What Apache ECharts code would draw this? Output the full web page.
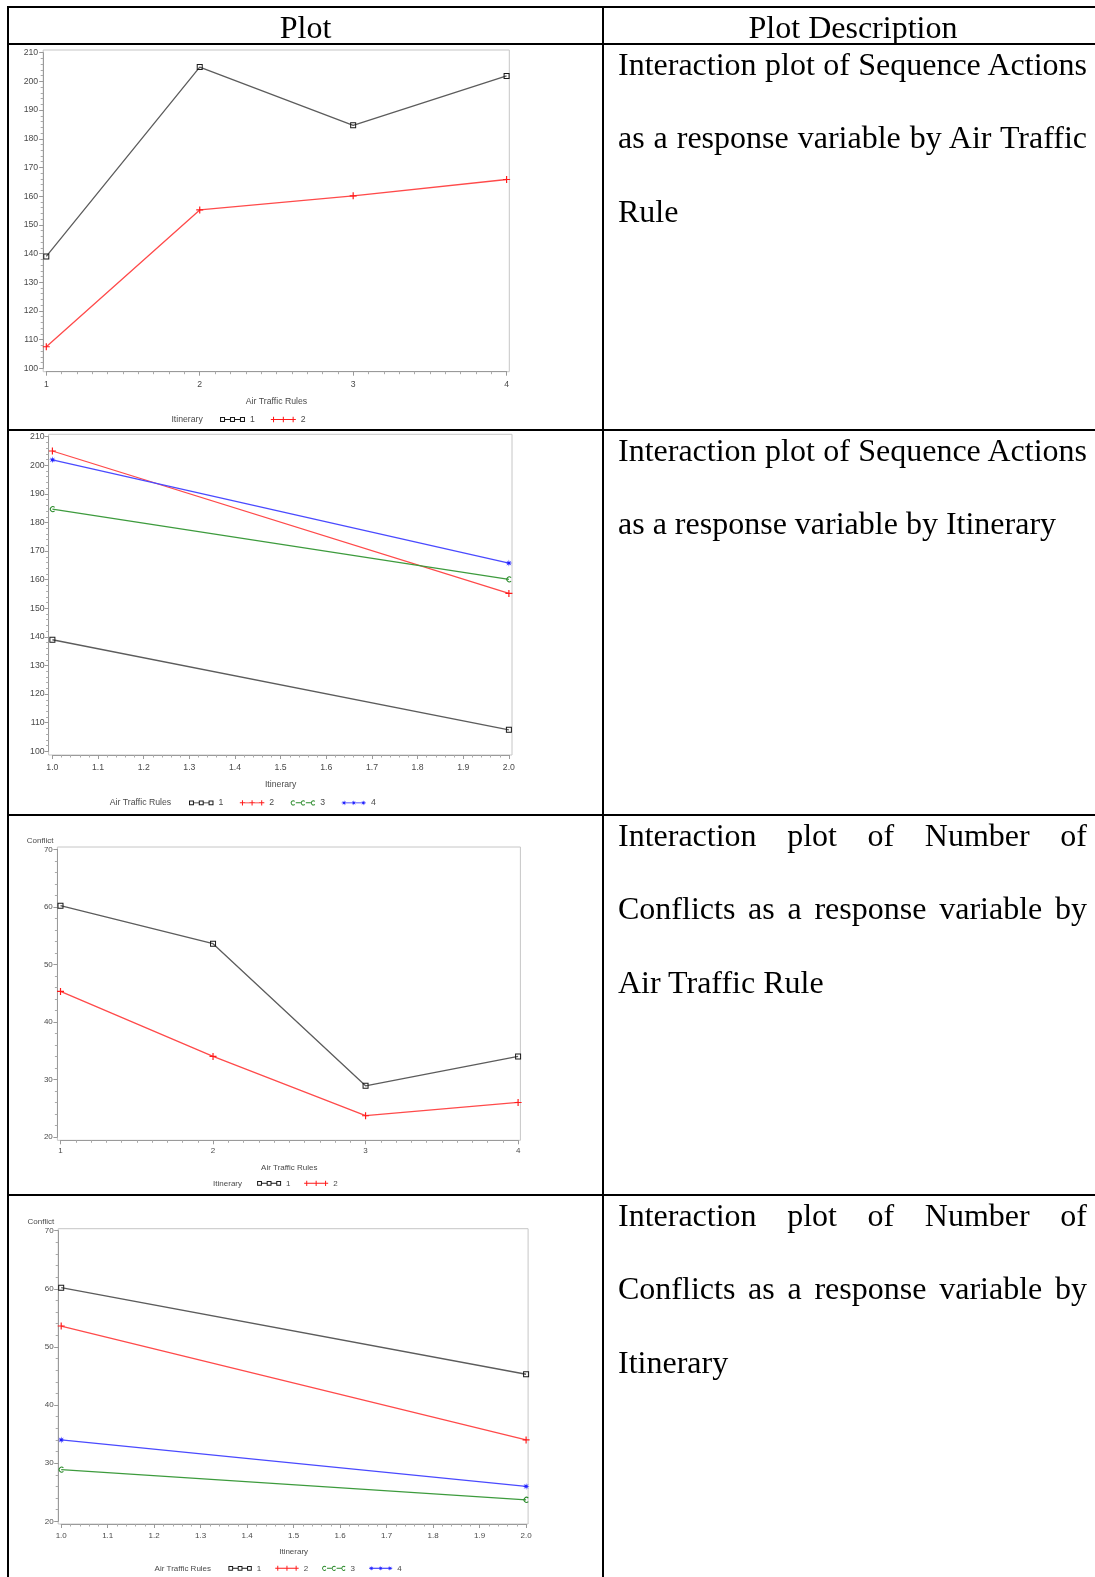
<!DOCTYPE html>
<html><head><meta charset="utf-8">
<script src="https://cdn.jsdelivr.net/npm/echarts@6/dist/echarts.min.js"></script>
<style>
html,body{margin:0;padding:0;background:#fff;}
#page{position:relative;width:1095px;height:1577px;overflow:hidden;background:#fff;}
#chart{position:absolute;left:0;top:0;width:1095px;height:1577px;z-index:1;}
.ln{position:absolute;background:#000;z-index:2;}
.tx{position:absolute;font-family:"Liberation Serif","Times New Roman",serif;font-size:32px;line-height:32px;height:32px;white-space:nowrap;color:#000;z-index:2;}
.j{text-align:justify;text-align-last:justify;}
.c{text-align:center;}
</style></head><body>
<div id="page"><div id="chart"></div></div>
<script>
// ---------------- DATA ----------------
const rules = [1, 2, 3, 4];                 // Air Traffic Rules
const itineraries = [1, 2];                 // Itinerary
const seqActionsItin1 = [139.0, 205.0, 184.7, 201.9];
const seqActionsItin2 = [107.5, 155.2, 160.1, 165.8];
const conflictItin1 = [60.2, 53.6, 28.9, 34.0];
const conflictItin2 = [45.3, 34.0, 23.7, 26.0];
const seqAxis = [100, 210, 10];             // min, max, interval
const conflictAxis = [20, 70, 10];
const ruleAxis = [1, 4, 1];
const itinAxis = [1, 2, 0.1];
const headerTexts = ['Plot', 'Plot Description'];
const descLines = [
  ['Interaction plot of Sequence Actions', 'as a response variable by Air Traffic', 'Rule'],
  ['Interaction plot of Sequence Actions', 'as a response variable by Itinerary'],
  ['Interaction plot of Number of', 'Conflicts as a response variable by', 'Air Traffic Rule'],
  ['Interaction plot of Number of', 'Conflicts as a response variable by', 'Itinerary']
];

// ---------------- TABLE (HTML) ----------------
const page = document.getElementById('page');
function addDiv(cls, css, text) {
  const d = document.createElement('div');
  d.className = cls;
  Object.assign(d.style, css);
  if (text != null) d.textContent = text;
  page.appendChild(d);
}
[6, 43, 429, 814, 1194].forEach(y => addDiv('ln', {left: '7px', top: y + 'px', width: '1100px', height: '2px'}));
[7, 602, 1102].forEach(x => addDiv('ln', {left: x + 'px', top: '6px', width: '2px', height: '1600px'}));
addDiv('tx c', {left: '9px', top: '10.8px', width: '593px'}, headerTexts[0]);
addDiv('tx c', {left: '604px', top: '10.8px', width: '498px'}, headerTexts[1]);
const rowTops = [44, 430, 815, 1195];
descLines.forEach((lines, r) => {
  lines.forEach((t, k) => {
    const last = k === lines.length - 1;
    addDiv('tx' + (last ? '' : ' j'), {left: '618px', top: (rowTops[r] + 3.6 + k * 73.8) + 'px', width: '469px'}, t);
  });
});

// ---------------- SYMBOL SHAPES ----------------
const f = v => (+v).toFixed(2);
function sq(cx, cy, h, t) {
  return `M${f(cx-h)},${f(cy-h)}H${f(cx+h)}V${f(cy+h)}H${f(cx-h)}Z` +
         `M${f(cx-h+t)},${f(cy-h+t)}V${f(cy+h-t)}H${f(cx+h-t)}V${f(cy-h+t)}Z`;
}
function plus(cx, cy, h, t) {
  const a = t / 2;
  return `M${f(cx-a)},${f(cy-h)}H${f(cx+a)}V${f(cy-a)}H${f(cx+h)}V${f(cy+a)}H${f(cx+a)}V${f(cy+h)}H${f(cx-a)}V${f(cy+a)}H${f(cx-h)}V${f(cy-a)}H${f(cx-a)}Z`;
}
function cshape(cx, cy, R, t) {
  const a = 0.7071, r = R - t;
  return `M${f(cx+R*a)},${f(cy-R*a)}A${f(R)},${f(R)} 0 1 0 ${f(cx+R*a)},${f(cy+R*a)}L${f(cx+r*a)},${f(cy+r*a)}A${f(r)},${f(r)} 0 1 1 ${f(cx+r*a)},${f(cy-r*a)}Z`;
}
function star(cx, cy, R, r) {
  let s = '';
  for (let k = 0; k < 16; k++) {
    const ang = -Math.PI / 2 + k * Math.PI / 8;
    const rad = k % 2 === 0 ? R : r;
    s += (k === 0 ? 'M' : 'L') + f(cx + rad * Math.cos(ang)) + ',' + f(cy + rad * Math.sin(ang));
  }
  return s + 'Z';
}
function bar(x0, x1, cy, t) { return `M${f(x0)},${f(cy-t/2)}H${f(x1)}V${f(cy+t/2)}H${f(x0)}Z`; }
const LX = [2.5, 12, 21.5];
const legendIcons = [
  'path://' + LX.map(c => sq(c, 3, 2.4, 1)).join('') + bar(4.9, 9.6, 3, 0.9) + bar(14.4, 19.1, 3, 0.9),
  'path://' + bar(0, 24, 3, 0.9) + LX.map(c => plus(c, 3, 2.6, 1)).join(''),
  'path://' + LX.map(c => cshape(c, 3, 2.4, 0.9)).join('') + bar(4.9, 9.6, 3, 0.9) + bar(14.4, 19.1, 3, 0.9),
  'path://' + bar(0, 24, 3, 0.9) + LX.map(c => star(c, 3, 2.6, 1)).join('')
];
const styles = [
  {line: '#5c5c5c', mark: '#1a1a1a', sym: 'path://' + sq(3, 3, 3, 1), size: 6},
  {line: '#ff4a4a', mark: '#ff1a1a', sym: 'path://' + plus(3, 3, 3, 1), size: 7},
  {line: '#3d9b3d', mark: '#2a8a2a', sym: 'path://' + cshape(3, 3, 3, 1), size: 6},
  {line: '#4a4aff', mark: '#1f1fff', sym: 'path://' + star(3, 3, 3, 1.1), size: 7}
];

// ---------------- PANELS ----------------
const FONT = '"Liberation Sans", Arial, Helvetica, sans-serif';
const panels = [
  {frame: [43.2, 50, 466.1, 321.7], data: [46.3, 52.7, 460.3, 315.6], x: ruleAxis, xMinor: 10, xDec: 0, y: seqAxis,
   xName: 'Air Traffic Rules', yName: '', fs: 8.7, xMargin: 8, yMargin: 5, nameGap: 25.5,
   legTitle: 'Itinerary', legTitleLeft: 171.4, legCY: 419.3, legLeft: 220, iconW: 25, gap: 16,
   series: [
     {name: 'a1', g: 0, data: rules.map((r, k) => [r, seqActionsItin1[k]])},
     {name: 'a2', g: 1, data: rules.map((r, k) => [r, seqActionsItin2[k]])}
   ]},
  {frame: [48.6, 434.3, 463.4, 320.7], data: [52.4, 436.7, 456.5, 314.6], x: itinAxis, xMinor: 5, xDec: 1, y: seqAxis,
   xName: 'Itinerary', yName: '', fs: 8.7, xMargin: 8, yMargin: 4, nameGap: 25.5,
   legTitle: 'Air Traffic Rules', legTitleLeft: 109.8, legCY: 802.7, legLeft: 189, iconW: 24.5, gap: 16.5,
   series: rules.map((r, k) => ({name: 'b' + r, g: k, data: [[itineraries[0], seqActionsItin1[k]], [itineraries[1], seqActionsItin2[k]]]}))},
  {frame: [57.4, 847, 463, 293.3], data: [60.5, 849.3, 457.6, 287.7], x: ruleAxis, xMinor: 10, xDec: 0, y: conflictAxis,
   xName: 'Air Traffic Rules', yName: 'Conflict', yNameGap: 4.5, fs: 8, xMargin: 6.7, yMargin: 4.6, nameGap: 23,
   legTitle: 'Itinerary', legTitleLeft: 213.1, legCY: 1183.3, legLeft: 257.1, iconW: 24, gap: 13.6,
   series: [
     {name: 'c1', g: 0, data: rules.map((r, k) => [r, conflictItin1[k]])},
     {name: 'c2', g: 1, data: rules.map((r, k) => [r, conflictItin2[k]])}
   ]},
  {frame: [58.2, 1228.7, 469.9, 295.3], data: [61.2, 1230.7, 464.9, 290.6], x: itinAxis, xMinor: 5, xDec: 1, y: conflictAxis,
   xName: 'Itinerary', yName: 'Conflict', yNameGap: 5, fs: 8, xMargin: 7.3, yMargin: 4.6, nameGap: 24,
   legTitle: 'Air Traffic Rules', legTitleLeft: 154.6, legCY: 1568.3, legLeft: 228.4, iconW: 23.4, gap: 14,
   series: rules.map((r, k) => ({name: 'd' + r, g: k, data: [[itineraries[0], conflictItin1[k]], [itineraries[1], conflictItin2[k]]]}))}
];

const option = {animation: false, backgroundColor: 'transparent', grid: [], xAxis: [], yAxis: [], series: [], legend: [], title: []};
const AX = '#9a9a9a', LBL = '#4a4a4a';
panels.forEach((p, i) => {
  const gi = 2 * i, fi = 2 * i + 1;
  const d = p.data, fr = p.frame;
  const xoff = (fr[1] + fr[3]) - (d[1] + d[3]);
  const yoff = d[0] - fr[0];
  option.grid[gi] = {left: d[0], top: d[1], width: d[2], height: d[3], show: false, containLabel: false, outerBoundsMode: 'none'};
  option.grid[fi] = {left: fr[0], top: fr[1], width: fr[2], height: fr[3], show: true, borderColor: '#c6c6c6', borderWidth: 1,
                     backgroundColor: 'rgba(0,0,0,0)', containLabel: false, outerBoundsMode: 'none'};
  const txt = {fontSize: p.fs, color: LBL, fontFamily: FONT};
  option.xAxis[gi] = {
    type: 'value', gridIndex: gi, min: p.x[0], max: p.x[1], interval: p.x[2], offset: xoff, position: 'bottom',
    axisLine: {show: true, onZero: false, lineStyle: {color: AX, width: 1}},
    axisTick: {show: true, inside: false, length: 4, lineStyle: {color: AX}},
    minorTick: {show: true, splitNumber: p.xMinor, length: 2.5, lineStyle: {color: '#aaaaaa'}},
    splitLine: {show: false}, minorSplitLine: {show: false},
    axisLabel: Object.assign({margin: p.xMargin, formatter: v => (+v).toFixed(p.xDec)}, txt),
    name: p.xName, nameLocation: 'middle', nameGap: p.nameGap, nameMoveOverlap: false,
    nameTextStyle: Object.assign({}, txt)
  };
  option.xAxis[fi] = {type: 'value', gridIndex: fi, show: false, min: 0, max: 1};
  option.yAxis[gi] = {
    type: 'value', gridIndex: gi, min: p.y[0], max: p.y[1], interval: p.y[2], offset: yoff, position: 'left',
    axisLine: {show: true, onZero: false, lineStyle: {color: AX, width: 1}},
    axisTick: {show: true, inside: false, length: 4, lineStyle: {color: AX}},
    minorTick: {show: true, splitNumber: 5, length: 2.5, lineStyle: {color: '#aaaaaa'}},
    splitLine: {show: false}, minorSplitLine: {show: false},
    axisLabel: Object.assign({margin: p.yMargin}, txt),
    name: p.yName, nameLocation: 'end', nameGap: p.yNameGap || 5, nameMoveOverlap: false,
    nameTextStyle: Object.assign({align: 'right', verticalAlign: 'bottom', padding: [0, 4, 0, 0]}, txt)
  };
  option.yAxis[fi] = {type: 'value', gridIndex: fi, show: false, min: 0, max: 1};
  p.series.forEach(s => {
    const st = styles[s.g];
    option.series.push({
      type: 'line', name: s.name, xAxisIndex: gi, yAxisIndex: gi, data: s.data,
      symbol: st.sym, symbolSize: st.size, showSymbol: true, symbolKeepAspect: true,
      lineStyle: {color: st.line, width: 1.3},
      itemStyle: {color: st.mark, borderWidth: 0},
      emphasis: {disabled: true}, z: 3, silent: true
    });
  });
  option.legend.push({
    left: p.legLeft, top: p.legCY - p.fs / 2, orient: 'horizontal', padding: 0,
    itemWidth: p.iconW, itemHeight: 6, itemGap: p.gap, selectedMode: false,
    textStyle: txt, formatter: n => n.slice(1),
    itemStyle: {borderWidth: 0},
    data: p.series.map(s => ({name: s.name, icon: legendIcons[s.g], itemStyle: {color: styles[s.g].mark, borderWidth: 0}}))
  });
  option.title.push({
    text: p.legTitle, left: p.legTitleLeft, top: p.legCY - p.fs / 2, padding: 0,
    textStyle: {fontSize: p.fs, fontWeight: 'normal', color: LBL, fontFamily: FONT}
  });
});

const chart = echarts.init(document.getElementById('chart'), null, {renderer: 'canvas'});
chart.setOption(option);
</script>
</body></html>
